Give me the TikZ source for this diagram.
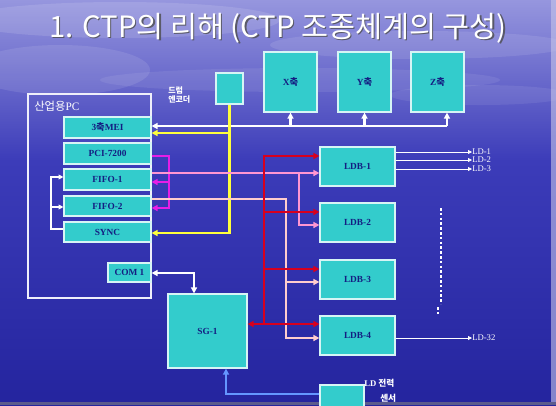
\documentclass[tikz,border=0pt]{standalone}
\usepackage{fontspec}
\setmainfont{Liberation Serif}
\newfontfamily\kr{Noto Sans CJK KR}
\usetikzlibrary{arrows.meta}
\definecolor{turq}{RGB}{51,204,204}
\definecolor{navy}{RGB}{20,30,130}
\definecolor{yel}{RGB}{255,255,60}
\definecolor{mag}{RGB}{230,30,230}
\definecolor{pinkl}{RGB}{255,150,210}
\definecolor{peach}{RGB}{255,205,205}
\definecolor{redl}{RGB}{215,0,30}
\definecolor{bluel}{RGB}{100,150,255}
\definecolor{bgtop}{RGB}{150,150,222}
\definecolor{bgmid}{RGB}{60,60,185}
\definecolor{bgbot}{RGB}{36,36,158}
\tikzset{
  box/.style={draw=white!80!turq, fill=turq, line width=0.9pt, inner sep=0pt,
    text=navy, font=\bfseries\fontsize{7}{8}\selectfont},
  wlab/.style={text=white, inner sep=0pt, font=\bfseries\fontsize{6.5}{7.5}\selectfont},
  ldlab/.style={text=white, inner sep=0pt, anchor=west, font=\fontsize{6.5}{7}\selectfont},
  tip/.style={-{Triangle[length=4.5pt,width=4.5pt]}},
  wline/.style={draw=white, line width=1.6pt},
  yline/.style={draw=yel, line width=1.8pt},
  mline/.style={draw=mag, line width=1.8pt},
  pline/.style={draw=pinkl, line width=1.6pt},
  peline/.style={draw=peach, line width=1.6pt},
  rline/.style={draw=redl, line width=2pt},
  bline/.style={draw=bluel, line width=1.8pt},
  ldline/.style={draw=white, line width=0.6pt, -{Triangle[length=3pt,width=3pt]}}
}
% name, x1, y1, x2, y2, text  (pixel coordinates)
\newcommand\mybox[7][]{%
  \node[box, #1, minimum width={(#5-#3)*0.75pt}, minimum height={(#6-#4)*0.75pt}]
    (#2) at ({(#3+#5)/2},{(#4+#6)/2}) {#7};}
\begin{document}
\begin{tikzpicture}[x=0.75pt,y=-0.75pt]
\useasboundingbox (0,0) rectangle (556,405);
% background
\shade[top color=bgtop, bottom color=bgmid] (0,0) rectangle (556,160);
\shade[top color=bgmid, bottom color=bgbot] (0,160) rectangle (556,405);
\begin{scope}[fill=white]
\fill[opacity=0.12] (120,20) ellipse (160 and 18);
\fill[opacity=0.10] (420,45) ellipse (150 and 14);
\fill[opacity=0.10] (60,70) ellipse (90 and 25);
\fill[opacity=0.08] (300,80) ellipse (200 and 12);
\fill[opacity=0.08] (480,95) ellipse (90 and 10);
\end{scope}
\fill[white!70!bgmid, opacity=0.6] (551,0) rectangle (556,405);
\fill[gray!60!bgbot] (0,402) rectangle (556,405);

% title
\node[text=black!70, opacity=0.8, font=\kr\fontsize{22}{26}\selectfont] (titleshadow) at (279.5,29.5) {1. CTP의 리해 (CTP 조종체계의 구성)};
\node[text=white, font=\kr\fontsize{22}{26}\selectfont] (title) at (278,28) {1. CTP의 리해 (CTP 조종체계의 구성)};

% PC frame
\mybox[draw=white!85!bgtop, fill=none, line width=1pt]{pc}{28}{94}{151}{298}{}
\node[wlab, anchor=west, font=\fontsize{8.5}{9}\selectfont] (pclab) at (34,106) {{\kr 산업용}PC};

\mybox{mei}{64}{117}{151}{138}{3{\kr 축}MEI}
\mybox{pci}{64}{143}{151}{164}{PCI-7200}
\mybox{fifo1}{64}{169}{151}{190}{FIFO-1}
\mybox{fifo2}{64}{196}{151}{216}{FIFO-2}
\mybox{sync}{64}{222}{151}{242}{SYNC}
\mybox{com}{108}{263}{151}{282}{COM 1}

% encoder
\mybox{enc}{216}{73}{243}{104}{}
\node[wlab, anchor=west, font=\kr\bfseries\fontsize{6}{7}\selectfont, align=left] (enclab) at (168,95) {드럼\\[-0.5pt]엔코더};

% axes
\mybox{xax}{264}{52}{317}{112}{X{\kr 축}}
\mybox{yax}{338}{52}{391}{112}{Y{\kr 축}}
\mybox{zax}{411}{52}{464}{112}{Z{\kr 축}}

% LDB
\mybox{ldb1}{320}{147}{395}{186}{LDB-1\hspace{10pt}}
\mybox{ldb2}{320}{203}{395}{242}{LDB-2\hspace{10pt}}
\mybox{ldb3}{320}{260}{395}{299}{LDB-3\hspace{10pt}}
\mybox{ldb4}{320}{316}{395}{355}{LDB-4\hspace{10pt}}

% SG-1
\mybox{sg}{168}{294}{247}{368}{SG-1\hspace{6pt}}

% sensor
\mybox{sens}{320}{385}{364}{408}{}
\node[wlab, anchor=west, font=\bfseries\fontsize{6.5}{7}\selectfont] (senslab1) at (364,383) {LD {\kr 전력}};
\node[wlab, anchor=west, font=\kr\bfseries\fontsize{6.5}{7}\selectfont] (senslab2) at (380,398) {센서};

% LD labels
\node[ldlab] (ld1) at (472,152) {LD-1};
\node[ldlab] (ld2) at (472,160) {LD-2};
\node[ldlab] (ld3) at (472,169) {LD-3};
\node[ldlab] (ld32) at (472,338) {LD-32};

% white bus to axes
\coordinate (busend) at (447,126);
\draw[wline, tip] (busend) -- (mei.east |- busend);
\draw[wline, tip] (busend) -- (busend |- zax.south);
\draw[wline, tip] (xax.south |- busend) -- (xax.south);
\draw[wline, tip] (yax.south |- busend) -- (yax.south);

% left feedback bracket
\draw[white, line width=1pt, -{Triangle[length=3.5pt,width=3.5pt]}] (sync.west |- 0,229) -- (51,229) -- (51,177) -- (fifo1.west |- 0,177);
\draw[white, line width=1pt, -{Triangle[length=3.5pt,width=3.5pt]}] (51,207) -- (fifo2.west |- 0,207);

% magenta
\draw[mline, tip] (pci.east |- 0,156) -- (169,156) -- (169,208) -- (fifo2.east |- 0,208);
\draw[mline, tip] (169,182) -- (fifo1.east |- 0,182);

% yellow from encoder
\draw[yline, tip] (enc.south) -- (enc.south |- 0,233) -- (sync.east |- 0,233);
\draw[yline, tip] (enc.south |- 0,133) -- (mei.east |- 0,133);

% pink from FIFO-1
\draw[pline, tip] (fifo1.east |- 0,173) -- (ldb1.west |- 0,173);
\draw[pline, tip] (299,173) -- (299,225) -- (ldb2.west |- 0,225);

% peach from FIFO-2
\draw[peline, tip] (fifo2.east |- 0,199) -- (286,199) -- (286,338) -- (ldb4.west |- 0,338);
\draw[peline, tip] (286,282) -- (ldb3.west |- 0,282);

% red
\draw[rline, tip] (264,324) -- (264,156) -- (ldb1.west |- 0,156);
\draw[rline, tip] (264,212) -- (ldb2.west |- 0,212);
\draw[rline, tip] (264,269) -- (ldb3.west |- 0,269);
\draw[rline, tip] (264,324) -- (ldb4.west |- 0,324);
\draw[rline, tip] (264,324) -- (sg.east |- 0,324);

% COM1 <-> SG-1
\draw[wline, {Triangle[length=4.5pt,width=4.5pt]}-{Triangle[length=4.5pt,width=4.5pt]}] (com.east |- 0,273) -- (194,273) -- (194,0 |- sg.north);

% sensor -> SG-1
\draw[bline, tip] (sens.west |- 0,394) -- (226,394) -- (226,0 |- sg.south);

% LD outputs
\draw[ldline] (ldb1.east |- ld1.west) -- (ld1.west);
\draw[ldline] (ldb1.east |- ld2.west) -- (ld2.west);
\draw[ldline] (ldb1.east |- ld3.west) -- (ld3.west);
\draw[ldline] (ldb4.east |- ld32.west) -- (ld32.west);

% dotted continuation
\draw[white, line width=1.4pt, dash pattern=on 2pt off 1.6pt] (441,208) -- (441,304);
\draw[white, line width=1.4pt, dash pattern=on 2pt off 1.6pt] (438,307) -- (438,316);
\end{tikzpicture}
\end{document}
